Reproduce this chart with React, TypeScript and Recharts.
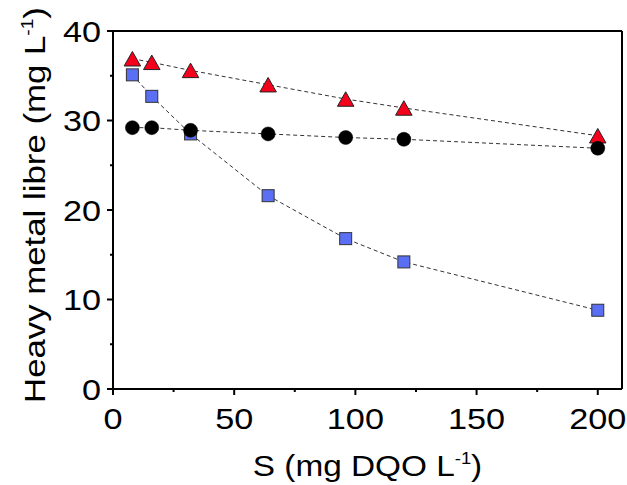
import React from 'react';
import { LineChart, Line, XAxis, YAxis, ReferenceLine, Label } from 'recharts';

const sValues = [8, 16, 32, 64, 96, 120, 200];
const triangleSeries = [36.9, 36.5, 35.6, 34.0, 32.4, 31.4, 28.3];
const circleSeries = [29.2, 29.2, 28.9, 28.5, 28.1, 27.9, 26.9];
const squareSeries = [35.1, 32.7, 28.5, 21.6, 16.8, 14.2, 8.8];

const xTicks = [0, 25, 50, 75, 100, 125, 150, 175, 200];
const xMajor = [0, 50, 100, 150, 200];
const yTicks = [0, 5, 10, 15, 20, 25, 30, 35, 40];
const yMajor = [0, 10, 20, 30, 40];

const xTitle = 'S (mg DQO L';
const yTitle = 'Heavy metal libre (mg L';
const supText = '-1';

const data = sValues.map((s, i) => ({
  s,
  tri: triangleSeries[i],
  cir: circleSeries[i],
  sq: squareSeries[i],
}));

const FONT = '"Liberation Sans", Arial, sans-serif';

const XTick = (props: any) => {
  const { x, y, payload } = props;
  const major = xMajor.includes(payload.value);
  return (
    <g>
      <line x1={x} x2={x} y1={y} y2={y + (major ? 6 : 3)} stroke="#000" strokeWidth={2} />
      {major && (
        <text
          transform={`translate(${x},${y + 39.5}) scale(1.18,1)`}
          textAnchor="middle"
          fontSize={29}
          fontFamily={FONT}
          fill="#000"
        >
          {payload.value}
        </text>
      )}
    </g>
  );
};

const YTick = (props: any) => {
  const { x, y, payload } = props;
  const major = yMajor.includes(payload.value);
  return (
    <g>
      <line x1={x} x2={x - (major ? 6 : 3)} y1={y} y2={y} stroke="#000" strokeWidth={2} />
      {major && (
        <text
          transform={`translate(${x - 12},${y + 10.5}) scale(1.18,1)`}
          textAnchor="end"
          fontSize={29}
          fontFamily={FONT}
          fill="#000"
        >
          {payload.value}
        </text>
      )}
    </g>
  );
};

const XTitle = (props: any) => {
  const vb = props.viewBox;
  const cx = vb.x + vb.width / 2;
  const cy = vb.y + 86.5;
  return (
    <text
      transform={`translate(${cx},${cy}) scale(1.15,1)`}
      textAnchor="middle"
      fontSize={29}
      fontFamily={FONT}
      fill="#000"
    >
      {xTitle}
      <tspan fontSize={16} dy={-12}>{supText}</tspan>
      <tspan dy={12}>)</tspan>
    </text>
  );
};

const YTitle = (props: any) => {
  const vb = props.viewBox;
  const cx = vb.x + 45;
  const cy = vb.y + vb.height / 2 - 5;
  return (
    <text
      transform={`translate(${cx},${cy}) rotate(-90) scale(1.2,1)`}
      textAnchor="middle"
      fontSize={29}
      fontFamily={FONT}
      fill="#000"
    >
      {yTitle}
      <tspan fontSize={16} dy={-12}>{supText}</tspan>
      <tspan dy={12}>)</tspan>
    </text>
  );
};

const TriDot = (p: any) => {
  const { cx, cy, index } = p;
  if (cx == null || cy == null) return <g key={`t${index}`} />;
  const w = 16.5;
  const h = 14.5;
  return (
    <path
      key={`t${index}`}
      d={`M${cx},${cy - h / 2}L${cx + w / 2},${cy + h / 2}L${cx - w / 2},${cy + h / 2}Z`}
      fill="#F5001C"
      stroke="#222"
      strokeWidth={1}
    />
  );
};

const CircDot = (p: any) => {
  const { cx, cy, index } = p;
  if (cx == null || cy == null) return <g key={`c${index}`} />;
  return <circle key={`c${index}`} cx={cx} cy={cy} r={7} fill="#000" stroke="#000" strokeWidth={0.5} />;
};

const SqDot = (p: any) => {
  const { cx, cy, index } = p;
  if (cx == null || cy == null) return <g key={`s${index}`} />;
  const s = 12;
  return (
    <rect
      key={`s${index}`}
      x={cx - s / 2}
      y={cy - s / 2}
      width={s}
      height={s}
      fill="#5B6FF5"
      stroke="#333"
      strokeWidth={1}
    />
  );
};

export default function App() {
  return (
    <div style={{ position: 'absolute', left: 0, top: 0, background: '#fff' }}>
      <LineChart
        width={627}
        height={485}
        data={data}
        margin={{ top: 31, right: 5, left: 0, bottom: 0 }}
      >
        <XAxis
          dataKey="s"
          type="number"
          domain={[0, 210]}
          ticks={xTicks}
          interval={0}
          tickSize={0}
          tickMargin={0}
          tickLine={false}
          tick={<XTick />}
          axisLine={{ stroke: '#000', strokeWidth: 2 }}
          height={96}
        >
          <Label content={<XTitle />} />
        </XAxis>
        <YAxis
          type="number"
          domain={[0, 40]}
          ticks={yTicks}
          interval={0}
          tickSize={0}
          tickMargin={0}
          tickLine={false}
          tick={<YTick />}
          axisLine={{ stroke: '#000', strokeWidth: 2 }}
          width={113}
        >
          <Label content={<YTitle />} />
        </YAxis>
        <ReferenceLine y={40} stroke="#000" strokeWidth={2} />
        <ReferenceLine x={210} stroke="#000" strokeWidth={2} />
        <Line
          dataKey="sq"
          type="linear"
          stroke="#333"
          strokeWidth={1}
          strokeDasharray="4 3"
          dot={(p: any) => <SqDot {...p} key={`s${p.index}`} />}
          activeDot={false}
          isAnimationActive={false}
        />
        <Line
          dataKey="tri"
          type="linear"
          stroke="#333"
          strokeWidth={1}
          strokeDasharray="4 3"
          dot={(p: any) => <TriDot {...p} key={`t${p.index}`} />}
          activeDot={false}
          isAnimationActive={false}
        />
        <Line
          dataKey="cir"
          type="linear"
          stroke="#333"
          strokeWidth={1}
          strokeDasharray="4 3"
          dot={(p: any) => <CircDot {...p} key={`c${p.index}`} />}
          activeDot={false}
          isAnimationActive={false}
        />
      </LineChart>
    </div>
  );
}
